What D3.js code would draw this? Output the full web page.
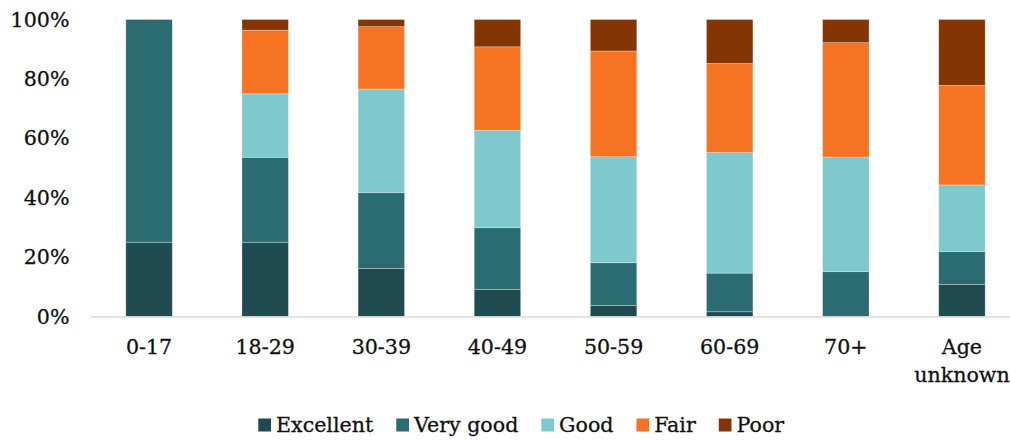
<!DOCTYPE html>
<html>
<head>
<meta charset="utf-8">
<script src="https://cdn.jsdelivr.net/npm/d3@7"></script>
<style>
  body { margin: 0; background: #fff; }
  text { font-family: "DejaVu Serif", serif; fill: #111; stroke: #111; stroke-width: 0.3px; }
</style>
</head>
<body>
<script>
// chart data
var categories = ["0-17", "18-29", "30-39", "40-49", "50-59", "60-69", "70+", "Age unknown"];
var series = ["Excellent", "Very good", "Good", "Fair", "Poor"];
var excellent = [25.0, 25.0, 16.2, 9.1, 3.7, 1.6, 0.0, 10.8];
var veryGood  = [75.0, 28.6, 25.5, 20.8, 14.4, 13.0, 15.1, 11.1];
var good      = [0.0, 21.4, 34.9, 32.8, 35.7, 40.6, 38.6, 22.4];
var fair      = [0.0, 21.4, 21.0, 28.1, 35.6, 30.0, 38.5, 33.5];
var poor      = [0.0, 3.6, 2.4, 9.2, 10.6, 14.8, 7.8, 22.2];
var yTicks = [0, 0.2, 0.4, 0.6, 0.8, 1.0];
var colors = ["#1f4a50", "#2a6c72", "#7ec9ce", "#f57323", "#843503"];

var width = 1010, height = 440;
var margin = {top: 19.5, right: -10, bottom: 123.5, left: 91};
var fontSize = 20.6;

var rows = categories.map(function(c, i) {
  return {cat: c, "Excellent": excellent[i], "Very good": veryGood[i], "Good": good[i], "Fair": fair[i], "Poor": poor[i]};
});

var svg = d3.select("body").append("svg")
  .attr("width", width).attr("height", height);

var x = d3.scaleBand()
  .domain(categories)
  .range([margin.left, width - margin.right])
  .paddingInner(0.6).paddingOuter(0.3);

var y = d3.scaleLinear()
  .domain([0, 1])
  .range([height - margin.bottom, margin.top]);

var color = d3.scaleOrdinal().domain(series).range(colors);

var stack = d3.stack().keys(series)
  .offset(d3.stackOffsetExpand);

var layers = svg.append("g").selectAll("g")
  .data(stack(rows))
  .enter().append("g")
  .attr("fill", function(d) { return color(d.key); });

layers.selectAll("rect")
  .data(function(d) { return d; })
  .enter().append("rect")
  .attr("x", function(d) { return x(d.data.cat); })
  .attr("width", x.bandwidth())
  .attr("y", function(d) { return y(d[1]); })
  .attr("height", function(d) { return y(d[0]) - y(d[1]); })
  .attr("stroke", "rgba(255,255,255,0.35)")
  .attr("stroke-width", 0.8);

// bottom axis line
svg.append("line")
  .attr("x1", margin.left).attr("x2", width)
  .attr("y1", y(0) + 0.5).attr("y2", y(0) + 0.5)
  .attr("stroke", "#d9d9d9").attr("stroke-width", 1.5);

// y axis labels
var yAxis = svg.append("g")
  .attr("transform", "translate(" + 69.5 + ",0)")
  .call(d3.axisLeft(y).tickValues(yTicks).tickFormat(d3.format(".0%")).tickSize(0).tickPadding(0));
yAxis.select(".domain").remove();
yAxis.selectAll("text")
  .attr("font-size", fontSize)
  .attr("font-family", "DejaVu Serif")
  .attr("fill", "#111");

// x axis labels, wrap "Age unknown"
var xAxis = svg.append("g")
  .attr("transform", "translate(0," + y(0) + ")")
  .call(d3.axisBottom(x).tickSize(0).tickPadding(0).tickFormat(""));
xAxis.select(".domain").remove();
xAxis.selectAll(".tick").append("text")
  .attr("fill", "#111")
  .attr("font-size", fontSize)
  .attr("font-family", "DejaVu Serif")
  .attr("text-anchor", "middle")
  .each(function(d) {
    var words = d.split(" ");
    var t = d3.select(this);
    if (words.length > 1) {
      words.forEach(function(w, i) {
        t.append("tspan").attr("x", 0).attr("y", 37.5 + i * 28).text(w);
      });
    } else {
      t.attr("y", 37.5).text(d);
    }
  });

// legend
var legend = svg.append("g").attr("transform", "translate(258.3,425)");
var lx = 0;
var items = legend.selectAll("g")
  .data(series)
  .enter().append("g");
items.append("rect")
  .attr("y", -6.5).attr("width", 12.7).attr("height", 13)
  .attr("fill", function(d) { return color(d); });
items.append("text")
  .attr("x", 17.7).attr("y", 0).attr("dy", "0.35em")
  .attr("font-size", fontSize)
  .text(function(d) { return d; });
items.each(function() {
  var g = d3.select(this);
  g.attr("transform", "translate(" + lx + ",0)");
  lx += 17.7 + g.select("text").node().getComputedTextLength() + 23;
});
</script>
</body>
</html>
